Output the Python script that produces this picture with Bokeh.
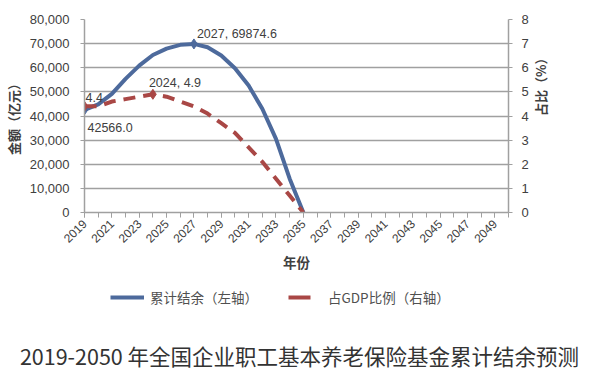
import math
from bokeh.plotting import figure
from bokeh.models import (Range1d, LinearAxis, FixedTicker, NumeralTickFormatter,
                          Label, Legend, LegendItem, ColumnDataSource)
from bokeh.embed import file_html
from bokeh.resources import INLINE

# ---------------- data ----------------
years = list(range(2019, 2051))
label_years = list(range(2019, 2050, 2))
fund_years = list(range(2019, 2036))
balance = [42566.0, 44800, 49200, 55400, 60900, 65300, 67900, 69500, 69874.6,
           68500, 65100, 59800, 52600, 43000, 30500, 14000, 0]
gdp_share = [4.4, 4.4, 4.6, 4.7, 4.8, 4.9, 4.8, 4.6, 4.4,
             4.1, 3.7, 3.3, 2.7, 2.1, 1.4, 0.7, 0]
left_ticks = [0, 10000, 20000, 30000, 40000, 50000, 60000, 70000, 80000]
right_ticks = [0, 1, 2, 3, 4, 5, 6, 7, 8]
series_names = ["累计结余（左轴）", "占GDP比例（右轴）"]
left_title = "金额（亿元）"
right_title = "占比（%）"
x_title = "年份"
chart_title = "2019-2050 年全国企业职工基本养老保险基金累计结余预测"

BLUE = "#4D6A9C"
RED = "#A94745"
GRID = "#A0A0A0"
TXT = "#404040"
NUM_FONT = "Liberation Sans"
CJK_FONT = "Noto Sans CJK SC"
W = 598

p = figure(width=W, height=283, output_backend="svg", toolbar_location=None,
           x_range=Range1d(years[0], years[-1]),
           y_range=Range1d(left_ticks[0], left_ticks[-1]),
           min_border_left=82, min_border_right=90, min_border_top=19,
           min_border_bottom=71)
p.outline_line_color = None
p.background_fill_color = "white"
p.border_fill_color = "white"

p.extra_y_ranges = {"pct": Range1d(right_ticks[0], right_ticks[-1])}

# grid
p.xgrid.visible = False
p.ygrid.ticker = FixedTicker(ticks=left_ticks)
p.ygrid.grid_line_color = GRID
p.ygrid.grid_line_width = 1.5

# x axis
xa = p.xaxis[0]
xa.ticker = FixedTicker(ticks=label_years, minor_ticks=years)
xa.major_label_orientation = math.pi / 4
xa.major_tick_in = 0
xa.major_tick_out = 5
xa.minor_tick_in = 0
xa.minor_tick_out = 5
xa.major_tick_line_color = GRID
xa.minor_tick_line_color = GRID
xa.axis_line_color = GRID
xa.axis_line_width = 1.5
xa.major_label_text_font = NUM_FONT
xa.major_label_text_font_size = "12px"
xa.major_label_text_color = TXT
xa.major_label_standoff = 4
xa.axis_label = x_title
xa.axis_label_text_font = CJK_FONT
xa.axis_label_text_font_style = "bold"
xa.axis_label_text_font_size = "13.5px"
xa.axis_label_text_color = TXT
xa.axis_label_standoff = 2

# left axis
ya = p.yaxis[0]
ya.ticker = FixedTicker(ticks=left_ticks)
ya.formatter = NumeralTickFormatter(format="0,0")
ya.major_tick_in = 0
ya.major_tick_out = 4
ya.minor_tick_line_color = None
ya.major_tick_line_color = GRID
ya.axis_line_color = GRID
ya.axis_line_width = 1.5
ya.major_label_text_font = NUM_FONT
ya.major_label_text_font_size = "13px"
ya.major_label_text_color = TXT
ya.major_label_standoff = 11
ya.axis_label = left_title
ya.axis_label_text_font = CJK_FONT
ya.axis_label_text_font_style = "bold"
ya.axis_label_text_font_size = "13px"
ya.axis_label_text_color = TXT
ya.axis_label_standoff = 4

# right axis
ra = LinearAxis(y_range_name="pct", ticker=FixedTicker(ticks=right_ticks))
ra.major_tick_in = 0
ra.major_tick_out = 4
ra.minor_tick_line_color = None
ra.major_tick_line_color = GRID
ra.axis_line_color = GRID
ra.axis_line_width = 1.5
ra.major_label_text_font = NUM_FONT
ra.major_label_text_font_size = "13px"
ra.major_label_text_color = TXT
ra.major_label_standoff = 9
ra.axis_label = right_title
ra.axis_label_text_font = CJK_FONT
ra.axis_label_text_font_style = "bold"
ra.axis_label_text_font_size = "13px"
ra.axis_label_text_color = TXT
ra.axis_label_standoff = 9
if "axis_label_orientation" in ra.properties():
    ra.axis_label_orientation = math.pi / 2
p.add_layout(ra, "right")

# series
src = ColumnDataSource(dict(year=fund_years, bal=balance, pct=gdp_share))
r_blue = p.line("year", "bal", source=src, line_color=BLUE, line_width=4,
                line_join="round", line_cap="round")
r_red = p.line("year", "pct", source=src, y_range_name="pct", line_color=RED,
               line_width=4, line_dash="12 8", line_join="round")

# markers at labelled points
i_first = 0
i_bal_max = balance.index(max(balance))
i_pct_max = gdp_share.index(max(gdp_share))
p.scatter([fund_years[i_first], fund_years[i_bal_max]],
          [balance[i_first], balance[i_bal_max]],
          marker="diamond", size=10, fill_color=BLUE, line_color=BLUE)
p.scatter([fund_years[i_first], fund_years[i_pct_max]],
          [gdp_share[i_first], gdp_share[i_pct_max]], y_range_name="pct",
          marker="diamond", size=10, fill_color=RED, line_color=RED)

def add_label(x, y, text, xo, yo, rng="default"):
    p.add_layout(Label(x=x, y=y, text=text, x_offset=xo, y_offset=yo,
                       y_range_name=rng, text_font=NUM_FONT,
                       text_font_size="12.5px", text_color=TXT,
                       text_baseline="middle", text_align="left"))

add_label(fund_years[i_bal_max], balance[i_bal_max],
          f"{fund_years[i_bal_max]}, {balance[i_bal_max]:.1f}", 3, 10)
add_label(fund_years[i_pct_max], gdp_share[i_pct_max],
          f"{fund_years[i_pct_max]}, {gdp_share[i_pct_max]:.1f}", -4, 11, "pct")
add_label(fund_years[i_first], gdp_share[i_first],
          f"{gdp_share[i_first]:.1f}", 1, 9, "pct")
add_label(fund_years[i_first], balance[i_first],
          f"{balance[i_first]:.1f}", 3, -18)

# ---------- lower strip (separate root): legend + chart title ----------
H2 = 89
q = figure(width=W, height=H2, output_backend="svg", toolbar_location=None,
           x_range=Range1d(0, W), y_range=Range1d(0, H2),
           min_border_left=0, min_border_right=0, min_border_top=0,
           min_border_bottom=0)
q.axis.visible = False
q.grid.visible = False
q.outline_line_color = None
q.background_fill_color = "white"
q.border_fill_color = "white"

# legend proxies (kept outside the visible range)
lb = q.line([-20, -10], [-20, -20], line_color=BLUE, line_width=4)
lr = q.line([-20, -10], [-20, -20], line_color=RED, line_width=4, line_dash="22 20")
leg = Legend(items=[LegendItem(label=series_names[0], renderers=[lb]),
                    LegendItem(label=series_names[1], renderers=[lr])],
             location=(110, H2 - 24), orientation="horizontal",
             glyph_width=34, label_standoff=6, spacing=30)
leg.margin = 0
leg.padding = 0
leg.border_line_color = None
leg.background_fill_alpha = 0
leg.label_text_font = CJK_FONT
leg.label_text_font_size = "13.5px"
leg.label_text_color = "#505050"
leg.label_height = 20
leg.glyph_height = 20
q.add_layout(leg)

q.add_layout(Label(x=W / 2, y=H2 - 72, text=chart_title, text_font=CJK_FONT,
                   text_font_size="21.5px", text_color="#333333",
                   text_align="center", text_baseline="middle"))

out = file_html([p, q], INLINE)
open("out.html", "w").write(out)
